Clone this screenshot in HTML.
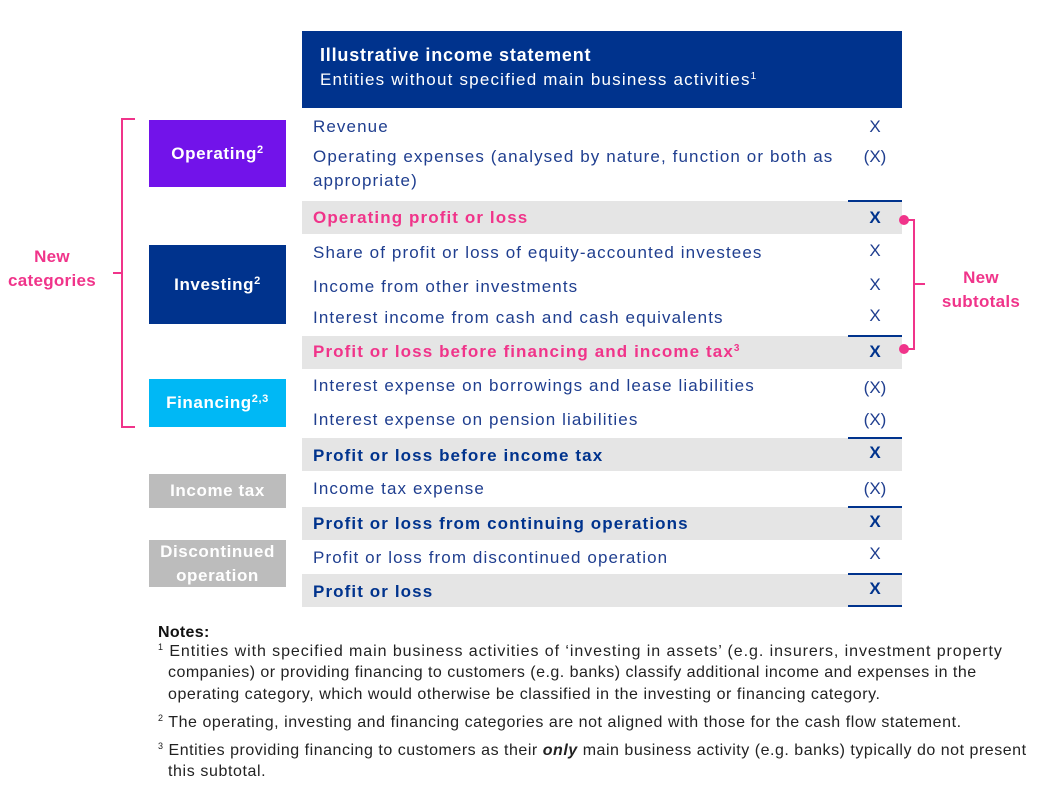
<!DOCTYPE html>
<html><head><meta charset="utf-8"><style>
body{margin:0;width:1041px;height:789px;background:#fff;position:relative;overflow:hidden;font-family:"Liberation Sans",Arial,sans-serif}
div{position:absolute;box-sizing:border-box}
.t{white-space:nowrap;font-size:17px;color:#1f3e8f;height:24px;line-height:24px;letter-spacing:1.1px}
.b{font-weight:bold;color:#00338d}
.p{font-weight:bold;color:#f0348a}
.x{left:848px;width:54px;text-align:center;letter-spacing:0}
.g{left:302px;width:600px;background:#e5e5e5}
.ln{left:848px;width:54px;height:2px;background:#00338d}
.cat{left:149px;width:137px;color:#fff;font-weight:bold;font-size:17px;display:flex;align-items:center;justify-content:center;text-align:center;line-height:24px;letter-spacing:0.6px}
sup{font-size:10px;vertical-align:6px;line-height:0}
.cat sup{font-size:11px}
.n{white-space:nowrap;font-size:16px;color:#222;left:168px;height:21px;line-height:21px;letter-spacing:0.6px}
.n sup{font-size:9px}
.pk{background:#f0348a}
</style></head><body>
<div style="left:302px;top:31px;width:600px;height:77px;background:#00338d"></div>
<div class="t" style="left:320px;top:43px;color:#fff;font-weight:bold;font-size:18px;letter-spacing:0.8px">Illustrative income statement</div>
<div class="t" style="left:320px;top:68px;color:#fff;letter-spacing:1.2px">Entities without specified main business activities<sup>1</sup></div>

<div class="g" style="top:201px;height:33px"></div>
<div class="g" style="top:336px;height:33px"></div>
<div class="g" style="top:438px;height:33px"></div>
<div class="g" style="top:507px;height:33px"></div>
<div class="g" style="top:574px;height:33px"></div>
<div class="ln" style="top:200px"></div>
<div class="ln" style="top:335px"></div>
<div class="ln" style="top:437px"></div>
<div class="ln" style="top:506px"></div>
<div class="ln" style="top:573px"></div>
<div class="ln" style="top:605px"></div>

<div class="cat" style="top:120px;height:67px;background:#7213ea"><span>Operating<sup>2</sup></span></div>
<div class="cat" style="top:245px;height:79px;background:#00338d"><span>Investing<sup>2</sup></span></div>
<div class="cat" style="top:379px;height:48px;background:#00b8f5"><span>Financing<sup>2,3</sup></span></div>
<div class="cat" style="top:474px;height:34px;background:#bcbcbc"><span>Income tax</span></div>
<div class="cat" style="top:540px;height:47px;background:#bcbcbc"><span>Discontinued<br>operation</span></div>

<div class="t" style="left:313px;top:115px">Revenue</div>
<div class="t x" style="top:115px">X</div>
<div class="t" style="left:313px;top:145px">Operating expenses (analysed by nature, function or both as</div>
<div class="t" style="left:313px;top:169px">appropriate)</div>
<div class="t x" style="top:145px">(X)</div>
<div class="t p" style="left:313px;top:206px">Operating profit or loss</div>
<div class="t x b" style="top:206px">X</div>
<div class="t" style="left:313px;top:241px">Share of profit or loss of equity-accounted investees</div>
<div class="t x" style="top:239px">X</div>
<div class="t" style="left:313px;top:275px">Income from other investments</div>
<div class="t x" style="top:273px">X</div>
<div class="t" style="left:313px;top:306px">Interest income from cash and cash equivalents</div>
<div class="t x" style="top:304px">X</div>
<div class="t p" style="left:313px;top:340px">Profit or loss before financing and income tax<sup>3</sup></div>
<div class="t x b" style="top:340px">X</div>
<div class="t" style="left:313px;top:374px">Interest expense on borrowings and lease liabilities</div>
<div class="t x" style="top:376px">(X)</div>
<div class="t" style="left:313px;top:408px">Interest expense on pension liabilities</div>
<div class="t x" style="top:408px">(X)</div>
<div class="t b" style="left:313px;top:444px">Profit or loss before income tax</div>
<div class="t x b" style="top:441px">X</div>
<div class="t" style="left:313px;top:477px">Income tax expense</div>
<div class="t x" style="top:477px">(X)</div>
<div class="t b" style="left:313px;top:512px">Profit or loss from continuing operations</div>
<div class="t x b" style="top:510px">X</div>
<div class="t" style="left:313px;top:546px">Profit or loss from discontinued operation</div>
<div class="t x" style="top:542px">X</div>
<div class="t b" style="left:313px;top:580px">Profit or loss</div>
<div class="t x b" style="top:577px">X</div>

<div class="pk" style="left:121px;top:118px;width:2px;height:310px"></div>
<div class="pk" style="left:121px;top:118px;width:14px;height:2px"></div>
<div class="pk" style="left:121px;top:426px;width:14px;height:2px"></div>
<div class="pk" style="left:113px;top:272px;width:9px;height:2px"></div>
<div class="t p" style="left:0;width:104px;top:245px;text-align:center;line-height:24px;height:48px;letter-spacing:0.3px">New<br>categories</div>

<div class="pk" style="left:913px;top:219px;width:2px;height:131px"></div>
<div class="pk" style="left:904px;top:219px;width:10px;height:2px"></div>
<div class="pk" style="left:904px;top:348px;width:10px;height:2px"></div>
<div class="pk" style="left:913px;top:283px;width:12px;height:2px"></div>
<div class="pk" style="left:899px;top:215px;width:10px;height:10px;border-radius:50%"></div>
<div class="pk" style="left:899px;top:344px;width:10px;height:10px;border-radius:50%"></div>
<div class="t p" style="left:928px;width:106px;top:266px;text-align:center;line-height:24px;height:48px;letter-spacing:0.3px">New<br>subtotals</div>

<div class="n" style="left:158px;top:622px;font-weight:bold;color:#111;letter-spacing:0.3px">Notes:</div>
<div class="n" style="left:158px;top:641px;letter-spacing:0.93px"><sup>1</sup> Entities with specified main business activities of ‘investing in assets’ (e.g. insurers, investment property</div>
<div class="n" style="top:662px;letter-spacing:0.48px">companies) or providing financing to customers (e.g. banks) classify additional income and expenses in the</div>
<div class="n" style="top:684px;letter-spacing:0.55px">operating category, which would otherwise be classified in the investing or financing category.</div>
<div class="n" style="left:158px;top:712px;letter-spacing:0.55px"><sup>2</sup> The operating, investing and financing categories are not aligned with those for the cash flow statement.</div>
<div class="n" style="left:158px;top:740px;letter-spacing:0.52px"><sup>3</sup> Entities providing financing to customers as their <b><i>only</i></b> main business activity (e.g. banks) typically do not present</div>
<div class="n" style="top:761px">this subtotal.</div>
</body></html>
